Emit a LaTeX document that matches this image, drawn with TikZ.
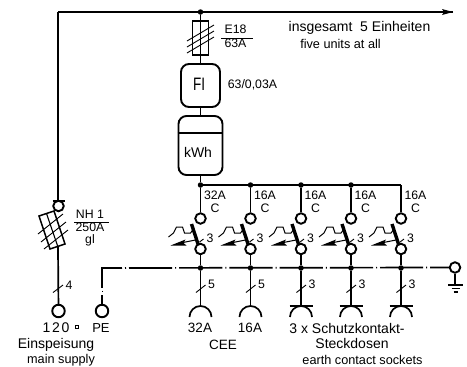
\documentclass[tikz,border=0pt]{standalone}
\usepackage{fontspec}
\setmainfont{Liberation Sans}
\usetikzlibrary{arrows.meta}
\tikzset{
  wire/.style={line width=1.7pt},
  thin wire/.style={line width=0.9pt},
  term/.style={circle,draw,line width=1.9pt,fill=white,inner sep=0pt,minimum size=10.5pt},
  bigterm/.style={circle,draw,line width=1.9pt,fill=white,inner sep=0pt,minimum size=12.5pt},
  dot/.style={circle,fill=black,inner sep=0pt,minimum size=5.5pt},
  box/.style={draw,line width=1.9pt,fill=white,rounded corners=8pt,inner sep=0pt},
  pe/.style={line width=1.7pt,dash pattern=on 43.2pt off 3pt on 1pt off 3pt},
  txt/.style={inner sep=0pt,font=\fontsize{12.3}{14}\selectfont,align=center},
  big/.style={inner sep=0pt,font=\fontsize{14}{16}\selectfont,align=center},
  small/.style={inner sep=0pt,font=\fontsize{12.7}{14}\selectfont,align=center},
}
\begin{document}
\begin{tikzpicture}[x=1pt,y=-1pt]
\useasboundingbox (0,0) rectangle (467,367);
% top feed
\coordinate (end) at (453,12);
\coordinate (corner) at (58,12);
\node[dot] (top) at (200.5,12) {};
\node[draw,line width=1.3pt,minimum width=16pt,minimum height=34pt,inner sep=0pt] (e18) at (200.5,38) {};
\node[box,minimum width=39pt,minimum height=43pt] (fi) at (200.5,85.5) {};
\node[xscale=.75,transform shape,inner sep=0pt,font=\fontsize{18}{18}\selectfont] (filabel) at (199,84) {FI};
\node[box,minimum width=44pt,minimum height=59pt] (kwh) at (200.5,145.5) {};
\node[big] (kwhlabel) at (198,152) {kWh};
\draw[line width=1.5pt] (kwh.west |- 0,133) coordinate (kl) -- (kwh.east |- 0,133) coordinate (kr);
\node[dot] (j1) at (200.5,185) {};
\draw[wire] (corner) -- (end);
\fill (end) ++(0,0) -- ++(-11,-3) -- ++(2,3) -- ++(-2,3) -- cycle;
\draw[wire] (top) -- (e18.north);
\draw[wire] (top) -- (e18.south);
\draw[wire] (e18.south) -- (fi.north);
\draw[wire] (fi.south) -- (kwh.north);
\draw[wire] (kwh.south) -- (j1);
\foreach \a/\b in {41/25,47/31,53/37} \draw[thin wire] (187,\a) -- (214,\b);
% mains fuse
\node[term] (nh) at (58.5,206) {};
\coordinate (nhbarl) at (52.5,201);
\coordinate (nhbarr) at (65,201);
\coordinate (f1) at (39,216);
\coordinate (f2) at (54,211);
\coordinate (f3) at (65,244);
\coordinate (f4) at (50,249);
\coordinate (fb) at (58,247);
\coordinate (ft) at (46.5,213.5);
\node[bigterm] (supply) at (58.5,311) {};
\node[bigterm] (pe) at (102,311) {};
\draw[wire] (corner) -- (nhbarl -| corner);
\draw[wire] (nhbarl) -- (nhbarr);
\draw[line width=1.5pt] (f1) -- (f2) -- (f3) -- (f4) -- cycle;
\draw[line width=1.1pt] (ft) -- (fb);
\foreach \a/\b/\c/\d in {38/234/63/214,41/242/66/222,44/249/68/230} \draw[thin wire] (\a,\b) -- (\c,\d);
\draw[wire] (fb) -- (supply);
\draw[thin wire] (53,292.5) -- (63,285);
\node[txt] (n4) at (69,285) {4};
% PE bar
\coordinate (pec) at (102,268);
\node[term] (gnd) at (455,267.5) {};
\coordinate (gb) at (455,285);
\draw[pe,dash phase=23.2pt] (pec) -- (gnd);
\draw[wire,line cap=rect] (pec) -- (102,287);
\draw[thin wire] (102,290.5) -- (102,292);
\draw[wire] (102,295) -- (pe);
\draw[wire] (gnd) -- (gb);
\draw[wire] (448,285) -- (463,285);
\draw[line width=1.3pt] (451.5,288.5) -- (459.5,288.5);
\draw[line width=1.3pt] (453.5,292) -- (457.5,292);
% branches
\draw[wire] (j1) -- (401,185) coordinate (busend);
\foreach \i/\x/\n/\pl/\lab in {1/200.5/5/32A/C,2/250.5/5/16A/C,3/301/3/16A/C,4/351/3/16A/C,5/401/3/16A/C}{
  \ifnum\i>1 \ifnum\i<5 \node[dot] (j\i) at (\x,185) {}; \else \coordinate (j\i) at (\x,185); \fi \fi
  \node[term] (t\i) at (\x,218.5) {};
  \node[term] (b\i) at (\x,249) {};
  \node[dot] (k\i) at (\x,268) {};
  \coordinate (s\i) at (\x,306);
  \draw[wire] (j\i) -- (t\i);
  \draw[wire] (b\i) -- (k\i);
  \draw[wire] (k\i) -- (s\i);
  \draw[wire] (s\i) ++(-11,11) arc[start angle=180,end angle=0,radius=11pt];
  \draw[line width=3.4pt] (\x-9,224) -- (\x-2.5,244);
  \draw[line width=1pt,line join=miter] (\x-32,237) -- (\x-27,233) -- (\x-24,227) -- (\x-18,227) -- (\x-16,233) -- (\x-10,233) -- (\x-7,229);
  \fill (\x-30,245.5) -- (\x-15,239.5) -- (\x-17,243) -- (\x-14,245.5) -- cycle;
  \draw[line width=1pt] (\x-20,243) -- (\x-5,240);
  \draw[thin wire] (\x-1,242) -- (\x+3,239);
  \draw[thin wire] (\x-4.5,292.5) -- (\x+5,285);
  \node[txt] (c\i) at (\x+14.5,195) {\pl};
  \node[txt] (d\i) at (\x+14.5,208) {\lab};
  \node[txt] (p\i) at (\x+9.5,238) {3};
  \node[txt] (w\i) at (\x+11,284) {\n};
}
\foreach \i in {3,4,5}{
  \draw[wire] (s\i) ++(-11.5,0) -- ++(23,0);
}
% labels
\node[txt] (e18a) at (235.5,29.5) {E18};
\node[txt] (e18b) at (235.5,43) {63A};
\draw[line width=.5pt] (221,38) -- (253,38);
\node[txt] (firate) at (252.5,84.5) {63/0,03A};
\node[txt] (nha) at (90,214) {NH 1};
\draw[line width=.5pt] (74,222) -- (109,222);
\node[txt] (nhb) at (90,227) {250A};
\node[txt] (nhc) at (90,240) {gl};
\node[big] (ins) at (359.5,27.5) {insgesamt\ \ 5 Einheiten};
\node[small] (five) at (340.5,44) {five units at all};
\node[big,font=\fontsize{14}{16}\selectfont\addfontfeature{LetterSpace=12}] (n120) at (56,328) {120};
\node[draw,line width=.6pt,minimum size=3pt,inner sep=0pt] (sq) at (77,327) {};
\node[big,font=\fontsize{13}{16}\selectfont] (petxt) at (101,328) {PE};
\node[big] (ein) at (56,345) {Einspeisung};
\node[small] (mains) at (61,360) {main supply};
\node[big,font=\fontsize{13.5}{16}\selectfont] (a32) at (200,328) {32A};
\node[big,font=\fontsize{13.5}{16}\selectfont] (a16) at (250,328) {16A};
\node[big,font=\fontsize{13.5}{16}\selectfont] (cee) at (223,344.5) {CEE};
\node[big] (sk) at (347,328) {3 x Schutzkontakt-};
\node[big] (sd) at (352,343.5) {Steckdosen};
\node[small] (ecs) at (362.5,360) {earth contact sockets};
\end{tikzpicture}
\end{document}
